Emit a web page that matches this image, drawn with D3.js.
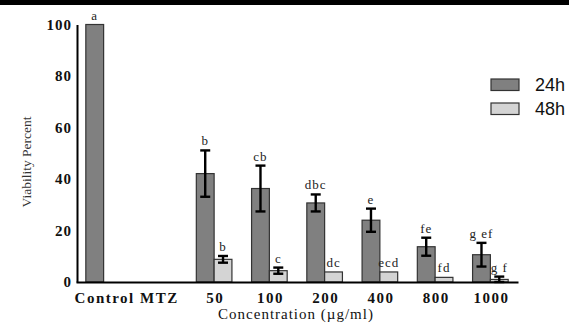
<!DOCTYPE html>
<html>
<head>
<meta charset="utf-8">
<script src="https://cdn.jsdelivr.net/npm/d3@7"></script>
<style>
  body { margin: 0; background: #fff; }
  svg { display: block; }
</style>
</head>
<body>
<div id="chart"></div>
<script>
// data
var groups = ["Control", "MTZ", "50", "100", "200", "400", "800", "1000"];
var tickLabels = ["Control MTZ", "", "50", "100", "200", "400", "800", "1000"];
var viability24 = [100, null, 42.1, 36.3, 30.7, 24.0, 13.7, 10.6];
var err24 = [0, null, 9.0, 8.9, 3.3, 4.5, 3.5, 4.6];
var viability48 = [null, null, 8.8, 4.4, 3.9, 3.9, 1.8, 1.0];
var err48 = [null, null, 1.3, 1.2, 0, 0, 0, 1.1];
var letters24 = ["a", null, "b", "cb", "dbc", "e", "fe", "g ef"];
var letters48 = [null, null, "b", "c", "dc", "ecd", "fd", "g f"];
var seriesNames = ["24h", "48h"];
var yTicks = [0, 20, 40, 60, 80, 100];

var width = 570, height = 323;
var colors = { "24h": "#808080", "48h": "#d4d4d4" };

var svg = d3.select("#chart")
    .append("svg")
    .attr("width", width)
    .attr("height", height);

// black rule across the top
svg.append("rect")
    .attr("x", 0).attr("y", 0)
    .attr("width", 569).attr("height", 5)
    .attr("fill", "#000");

var x = d3.scaleBand()
    .domain(groups)
    .range([76, 518])
    .padding(0);

var y = d3.scaleLinear()
    .domain([0, 100])
    .range([282, 24.5]);

var barW = 17.8;

// build flat list of bars
var bars = [];
groups.forEach(function(g, i) {
    if (viability24[i] != null)
        bars.push({ g: g, s: "24h", v: viability24[i], e: err24[i], lab: letters24[i], off: -barW });
    if (viability48[i] != null)
        bars.push({ g: g, s: "48h", v: viability48[i], e: err48[i], lab: letters48[i], off: 0 });
});

function cx(d) {
    return x(d.g) + x.bandwidth() / 2 + d.off + barW / 2;
}

svg.append("g").selectAll("rect")
    .data(bars)
    .enter().append("rect")
    .attr("x", function(d) { return x(d.g) + x.bandwidth() / 2 + d.off; })
    .attr("y", function(d) { return y(d.v); })
    .attr("width", barW)
    .attr("height", function(d) { return y(0) - y(d.v); })
    .attr("fill", function(d) { return colors[d.s]; })
    .attr("stroke", "#333")
    .attr("stroke-width", 1.2);

// error bars
var eb = svg.append("g")
    .attr("stroke", "#000")
    .attr("stroke-width", 2.4)
    .selectAll("g")
    .data(bars.filter(function(d) { return d.e > 0; }))
    .enter().append("g");

eb.append("line")
    .attr("x1", cx).attr("x2", cx)
    .attr("y1", function(d) { return y(d.v + d.e); })
    .attr("y2", function(d) { return y(Math.max(0, d.v - d.e)); });
eb.append("line")
    .attr("x1", function(d) { return cx(d) - 5; })
    .attr("x2", function(d) { return cx(d) + 5; })
    .attr("y1", function(d) { return y(d.v + d.e); })
    .attr("y2", function(d) { return y(d.v + d.e); });
eb.append("line")
    .attr("x1", function(d) { return cx(d) - 5; })
    .attr("x2", function(d) { return cx(d) + 5; })
    .attr("y1", function(d) { return y(Math.max(0, d.v - d.e)); })
    .attr("y2", function(d) { return y(Math.max(0, d.v - d.e)); });

// significance letters
svg.append("g").selectAll("text")
    .data(bars.filter(function(d) { return d.lab; }))
    .enter().append("text")
    .attr("x", cx)
    .attr("y", function(d) { return y(d.v + d.e) - 5; })
    .attr("text-anchor", "middle")
    .attr("font-family", "Liberation Serif, serif")
    .attr("font-size", 13)
    .attr("letter-spacing", 1)
    .attr("fill", "#222")
    .text(function(d) { return d.lab; });

// axes
var yAxis = d3.axisLeft(y)
    .tickValues(yTicks)
    .tickSize(0)
    .tickPadding(5);

var yg = svg.append("g")
    .attr("transform", "translate(77,0)")
    .call(yAxis);
yg.select(".domain").attr("stroke", "#000").attr("stroke-width", 2);
yg.selectAll("text")
    .attr("font-family", "Liberation Serif, serif")
    .attr("font-weight", "bold")
    .attr("font-size", 15)
    .attr("letter-spacing", 1)
    .attr("fill", "#111");

var xAxis = d3.axisBottom(x)
    .tickSize(0)
    .tickSizeOuter(0)
    .tickPadding(10)
    .tickFormat(function(d, i) { return tickLabels[i]; });

var xg = svg.append("g")
    .attr("transform", "translate(0,282)")
    .call(xAxis);
xg.select(".domain").attr("stroke", "#000").attr("stroke-width", 2);
xg.selectAll("text")
    .attr("font-family", "Liberation Serif, serif")
    .attr("font-weight", "bold")
    .attr("font-size", 15)
    .attr("letter-spacing", 1.5)
    .attr("fill", "#111")
    .attr("dx", function(d, i) { return i === 0 ? 23 : 1; });

// axis titles
svg.append("text")
    .attr("text-anchor", "middle")
    .attr("transform", "translate(31,162)rotate(-90)")
    .attr("font-family", "Liberation Serif, serif")
    .attr("font-size", 13.5)
    .attr("fill", "#333")
    .text("Viability Percent");

svg.append("text")
    .attr("text-anchor", "middle")
    .attr("x", 296)
    .attr("y", 319)
    .attr("font-family", "Liberation Serif, serif")
    .attr("font-size", 15)
    .attr("letter-spacing", 1)
    .attr("fill", "#111")
    .text("Concentration (\u00b5g/ml)");

// legend
var legend = svg.append("g").selectAll("g")
    .data(seriesNames)
    .enter().append("g")
    .attr("transform", function(d, i) { return "translate(491," + (79 + i * 24) + ")"; });

legend.append("rect")
    .attr("width", 28)
    .attr("height", 11.5)
    .attr("fill", function(d) { return colors[d]; })
    .attr("stroke", "#333")
    .attr("stroke-width", 1.2);

legend.append("text")
    .attr("x", 44)
    .attr("y", 12)
    .attr("font-family", "Liberation Sans, Arial, sans-serif")
    .attr("font-size", 18)
    .attr("fill", "#111")
    .text(function(d) { return d; });
</script>
</body>
</html>
